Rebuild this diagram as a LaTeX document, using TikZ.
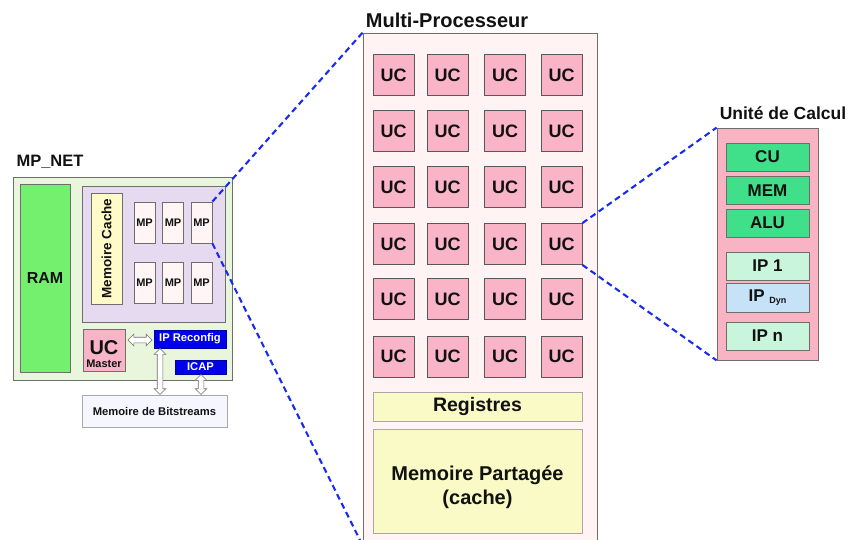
\documentclass[tikz,border=0pt]{standalone}
\usepackage{fontspec}
\setmainfont{Liberation Sans}
\usetikzlibrary{positioning,shapes.arrows}

\definecolor{boxgray}{HTML}{6E6E6E}
\definecolor{txt}{HTML}{111111}
\definecolor{netbg}{HTML}{E9F6DC}
\definecolor{ramgreen}{HTML}{75F06E}
\definecolor{grplilac}{HTML}{E5DAF0}
\definecolor{cacheyel}{HTML}{FFFBC9}
\definecolor{mpwhite}{HTML}{FFF5F5}
\definecolor{ucpink}{HTML}{FAB4C7}
\definecolor{ipblue}{HTML}{0000EE}
\definecolor{bitsbg}{HTML}{F5F6FE}
\definecolor{multibg}{HTML}{FFF3F4}
\definecolor{regyel}{HTML}{FAFAC6}
\definecolor{calcpink}{HTML}{F9B4C3}
\definecolor{alugreen}{HTML}{40E08B}
\definecolor{iplight}{HTML}{C8F5DC}
\definecolor{dynblue}{HTML}{C5E2F7}
\definecolor{zoomblue}{HTML}{1A2BF0}

\newcommand{\fsz}[1]{\fontsize{#1}{#1}\selectfont}

\begin{document}
\begin{tikzpicture}[x=1pt,y=-1pt,
  box/.style={draw=boxgray,line width=0.8pt,inner sep=0pt,font=\bfseries,text=txt},
  title/.style={font=\bfseries,text=txt,inner sep=0pt},
  blue box/.style={box,fill=ipblue,draw=ipblue!70!black,text=white},
  dblarrow/.style={double arrow,draw=boxgray,fill=white,line width=0.6pt,
    inner sep=2.5pt,minimum width=11pt,double arrow head extend=3pt},
  zoomline/.style={draw=zoomblue,line width=2.1pt,dash pattern=on 6pt off 4pt}]
  \useasboundingbox (0,0) rectangle (849,539);

  % MP_NET
  \node[title] (netl) at (50,162) {\fsz{16.5}MP\_NET};
  \node[box,fill=netbg,minimum width=219,minimum height=203] (net) at (122.5,278.5) {};
  \node[box,fill=ramgreen,minimum width=50,minimum height=188] (ram) at (45,278) {\fsz{16}RAM};
  \node[box,fill=grplilac,minimum width=143,minimum height=136] (grp) at (153.5,254) {};
  \node[box,fill=cacheyel,rotate=90,minimum width=111,minimum height=31] (cache) at (106.5,248.5) {\fsz{13.5}Memoire Cache};
  \foreach \r/\y in {1/222.5,2/282.5}
    \foreach \c/\x in {1/144.5,2/173,3/201.5}
      \node[box,fill=mpwhite,minimum width=21,minimum height=41] (mp-\r-\c) at (\x,\y) {\fsz{11}MP};
  \node[box,fill=ucpink,minimum width=42,minimum height=42] (ucm) at (104,350) {};
  \node[title,align=center,font=\bfseries\fsz{11}] (ucmt) at ([yshift=-4pt]ucm.center)
    {{\fsz{20}UC}\\[1.5pt]Master};
  \node[blue box,minimum width=72,minimum height=18] (ipr) at (190,339) {\fsz{11.2}IP Reconfig};
  \node[blue box,minimum width=51,minimum height=14] (icap) at (200.5,367) {\fsz{11.2}ICAP};
  \node[box,fill=bitsbg,draw=boxgray!60,minimum width=145,minimum height=32] (bits) at (154.5,411) {\fsz{11.2}Memoire de Bitstreams};
  \node[dblarrow,minimum height=24] (a1) at (140,340) {};
  \node[dblarrow,rotate=90,minimum height=46] (a2) at (160,371.5) {};
  \node[dblarrow,rotate=90,minimum height=20] (a3) at (201,384.5) {};

  % Multi-Processeur
  \node[title] (mpl) at (447,20) {\fsz{20}Multi-Processeur};
  \node[box,fill=multibg,minimum width=234,minimum height=512] (multi) at (480,289) {};
  \foreach \r/\y in {1/75,2/131,3/187,4/244,5/299,6/356.5}
    \foreach \c/\x in {1/393.5,2/447.5,3/505,4/561.5}
      \node[box,fill=ucpink,draw=boxgray!80!black,minimum width=41,minimum height=41] (uc-\r-\c) at (\x,\y) {\fsz{18}UC};
  \node[box,fill=regyel,draw=boxgray!60,minimum width=209,minimum height=29] (reg) at (477.5,406.5) {\fsz{19.5}Registres};
  \node[box,fill=regyel,draw=boxgray!60,minimum width=209,minimum height=104] (shm) at (477.5,481) {};
  \node[title,align=center,font=\bfseries\fsz{20}] (shmt) at ([yshift=-6pt]shm.center)
    {Memoire Partagée\\[4pt](cache)};

  % Unite de Calcul
  \node[title] (ucl) at (783,113) {\fsz{17.5}Unité de Calcul};
  \node[box,fill=calcpink,minimum width=101,minimum height=232] (calc) at (767.5,244) {};
  \node[box,fill=alugreen,minimum width=83,minimum height=28] (cu) at (767.5,157) {\fsz{17}CU};
  \node[box,fill=alugreen,minimum width=83,minimum height=28] (mem) at (767.5,190.5) {\fsz{17}MEM};
  \node[box,fill=alugreen,minimum width=83,minimum height=28] (alu) at (767.5,223) {\fsz{17}ALU};
  \node[box,fill=iplight,minimum width=83,minimum height=28] (ip1) at (767.5,266) {\fsz{17}IP 1};
  \node[box,fill=dynblue,minimum width=83,minimum height=29] (ipd) at (767.5,297.5) {\fsz{17}IP \raisebox{-2.5pt}{\fsz{9}Dyn}};
  \node[box,fill=iplight,minimum width=83,minimum height=28] (ipn) at (767.5,336) {\fsz{17}IP n};

  % zoom lines
  \draw[zoomline] (mp-1-3.north east) -- (multi.north west);
  \draw[zoomline] (mp-1-3.south east) -- (multi.south west);
  \draw[zoomline] (uc-4-4.north east) -- (calc.north west);
  \draw[zoomline] (uc-4-4.south east) -- (calc.south west);
\end{tikzpicture}
\end{document}
